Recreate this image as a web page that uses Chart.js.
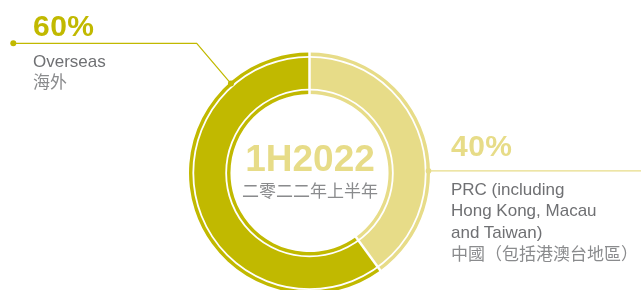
<!DOCTYPE html>
<html>
<head>
<meta charset="utf-8">
<script src="https://cdn.jsdelivr.net/npm/chart.js@4"></script>
<style>
  html, body { margin: 0; padding: 0; background: #fff; overflow: hidden; }
  #wrap { position: absolute; left: 0; top: 0; width: 641px; height: 300px; }
  .t { position: absolute; white-space: nowrap; line-height: 1; font-family: "Liberation Sans", Arial, sans-serif; }
  .cjk { font-family: "Noto Sans CJK TC", "Noto Sans CJK SC", sans-serif; }
  .pct { font-size: 30px; font-weight: bold; letter-spacing: 0.5px; }
  .lbl { font-size: 17px; color: #6f7073; }
</style>
</head>
<body>
<div id="wrap"><canvas id="chart-1"></canvas></div>

<div class="t pct" style="left:33px; top:10.6px; color:#c1b900;">60%</div>
<div class="t lbl" style="left:33px; top:52.6px;">Overseas</div>
<div class="t lbl cjk" style="left:33px; top:72px; color:#8a8b8d;">海外</div>

<div class="t pct" style="left:451px; top:131.3px; color:#e7dc88;">40%</div>
<div class="t lbl" style="left:451px; top:180.6px;">PRC (including</div>
<div class="t lbl" style="left:451px; top:202.3px;">Hong Kong, Macau</div>
<div class="t lbl" style="left:451px; top:223.6px;">and Taiwan)</div>
<div class="t lbl cjk" style="left:451px; top:244px; color:#8a8b8d;">中國（包括港澳台地區）</div>

<div class="t" style="left:210px; width:200px; text-align:center; top:140.4px; font-size:37px; font-weight:bold; color:#e7dc88;">1H2022</div>
<div class="t cjk" style="left:210px; width:200px; text-align:center; top:180.6px; font-size:17px; color:#8a8b8d;">二零二二年上半年</div>

<script>
// Data
const categories = ["PRC (including Hong Kong, Macau and Taiwan)", "Overseas"];
const shares = [40, 60];
const colors = ["#e7dc88", "#c1b900"];

// White rings, slice separators and leader lines
const decorPlugin = {
    id: "decor",
    afterDatasetsDraw(chart) {
        const ctx = chart.ctx;
        const arcs = chart.getDatasetMeta(0).data;
        const a0 = arcs[0];
        const cx = a0.x, cy = a0.y, R = a0.outerRadius, r = a0.innerRadius;

        ctx.save();
        ctx.strokeStyle = "#fff";
        ctx.lineWidth = 1.8;
        [R - 4.3, r + 4.3].forEach(rad => {
            ctx.beginPath();
            ctx.arc(cx, cy, rad, 0, Math.PI * 2);
            ctx.stroke();
        });
        ctx.lineWidth = 2.5;
        arcs.forEach(a => {
            ctx.beginPath();
            ctx.moveTo(cx + Math.cos(a.startAngle) * (r - 1), cy + Math.sin(a.startAngle) * (r - 1));
            ctx.lineTo(cx + Math.cos(a.startAngle) * (R + 1), cy + Math.sin(a.startAngle) * (R + 1));
            ctx.stroke();
        });

        // leader lines (angle measured clockwise from top)
        const pt = deg => {
            const t = (deg - 90) * Math.PI / 180;
            return [cx + Math.cos(t) * (R - 1.5), cy + Math.sin(t) * (R - 1.5)];
        };
        const dot = (x, y, rad, c) => {
            ctx.fillStyle = c;
            ctx.beginPath();
            ctx.arc(x, y, rad, 0, Math.PI * 2);
            ctx.fill();
        };

        ctx.lineWidth = 1.2;
        // Overseas
        const [ox, oy] = pt(-41.3);
        ctx.strokeStyle = colors[1];
        ctx.beginPath();
        ctx.moveTo(ox, oy);
        ctx.lineTo(196.7, 43.3);
        ctx.lineTo(13.3, 43.3);
        ctx.stroke();
        dot(ox, oy, 3, colors[1]);
        dot(13.3, 43.3, 3, colors[1]);

        // PRC
        const [px, py] = pt(89);
        ctx.strokeStyle = colors[0];
        ctx.beginPath();
        ctx.moveTo(px, py);
        ctx.lineTo(641, py);
        ctx.stroke();
        dot(px, py, 2.8, colors[0]);
        ctx.restore();
    }
};

const ctx1 = document.getElementById("chart-1").getContext("2d");
const donutChart = new Chart(ctx1, {
    type: "doughnut",
    data: {
        labels: categories,
        datasets: [{
            data: shares,
            backgroundColor: colors,
            borderWidth: 0,
        }],
    },
    options: {
        responsive: true,
        maintainAspectRatio: false,
        animation: false,
        cutout: "65.6%",
        layout: { padding: { left: 189, right: 211, top: 52.5, bottom: 6.5 } },
        plugins: {
            legend: { display: false },
            tooltip: { enabled: false },
        },
    },
    plugins: [decorPlugin],
});
</script>
</body>
</html>
